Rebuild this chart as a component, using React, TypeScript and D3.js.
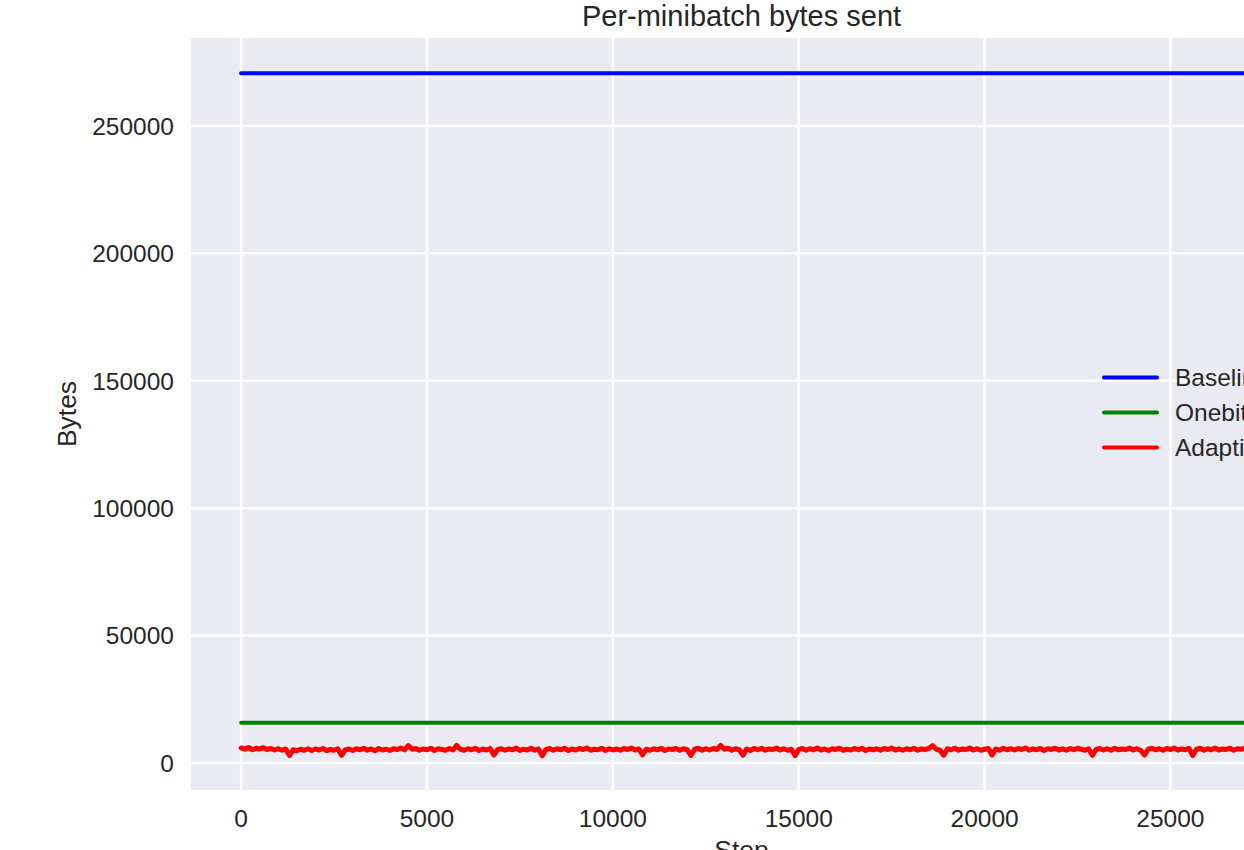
import React, { useEffect, useRef } from "react";
import * as d3 from "d3";

// steps of the two constant series (start and end of the run)
const constSteps = [0, 27100];
const baselineBytes = [270700, 270700];
const onebitBytes = [15800, 15800];

// adaptive series, one value every 100 steps
const adaptiveStepSize = 100;
const adaptiveBytes = [
  5900, 5400, 6100, 5200, 5800, 5500, 6000, 5300, 5700, 5100,
  5600, 5000, 5500, 2900, 5200, 4800, 5400, 5000, 5600, 4900,
  5500, 5100, 5700, 4900, 5300, 5000, 5600, 3000, 5100, 5500,
  4900, 5600, 5200, 5800, 5000, 5500, 4800, 5700, 5100, 5400,
  4900, 5600, 5300, 5900, 5200, 6800, 5400, 5700, 5000, 5500,
  5200, 5800, 4900, 5600, 5300, 5000, 5700, 5100, 6900, 5400,
  5000, 5600, 5200, 5800, 4900, 5500, 5100, 5700, 3100, 5300,
  5600, 5000, 5500, 5200, 5900, 4900, 5400, 5100, 5800, 5000,
  5500, 2800, 5300, 5700, 5000, 5600, 5200, 5800, 4900, 5500,
  5100, 5700, 5300, 5900, 5000, 5400, 5200, 5800, 4900, 5600,
  5100, 5500, 5000, 5700, 5300, 5900, 5100, 5500, 3200, 5400,
  5000, 5600, 5200, 5800, 4900, 5500, 5300, 5700, 5000, 5600,
  5200, 3000, 5400, 5800, 5000, 5600, 5100, 5700, 5300, 6900,
  5400, 5800, 5000, 5600, 5200, 3100, 5500, 4900, 5700, 5200,
  5800, 5000, 5500, 5300, 5900, 5100, 5600, 5000, 5400, 2900,
  5300, 5700, 5000, 5600, 5200, 5900, 5100, 5500, 4900, 5600,
  5300, 5800, 5000, 5400, 5100, 5700, 5200, 5800, 4900, 5500,
  5200, 5600, 5000, 5700, 5300, 5900, 5100, 5500, 5000, 5600,
  5200, 5800, 5000, 5500, 5300, 5700, 6800, 5400, 5000, 3000,
  5600, 5200, 5800, 5000, 5500, 5300, 5900, 5100, 5600, 5000,
  5400, 5700, 3100, 5500, 5000, 5800, 5200, 5600, 5100, 5700,
  5300, 5900, 5000, 5500, 5200, 5700, 4900, 5600, 5300, 5800,
  5100, 5500, 5000, 5700, 5200, 5800, 5400, 5000, 5600, 3000,
  5300, 5700, 5100, 5600, 5000, 5800, 5200, 5500, 5300, 5900,
  5100, 5600, 5000, 3100, 5400, 5800, 5200, 5600, 5000, 5700,
  5300, 5900, 5100, 5500, 5200, 5700, 2900, 5400, 5800, 5000,
  5600, 5200, 5900, 5100, 5500, 5300, 5800, 5000, 5600, 5400,
  5800, 5200,
];

const xTicks = [0, 5000, 10000, 15000, 20000, 25000];
const yTicks = [0, 50000, 100000, 150000, 200000, 250000];
const legendNames = ["Baseline", "Onebit", "Adaptive"];
const colors = ["#0000ff", "#008000", "#ff0000"];
const widths = [4, 4, 5];

const font = "'Liberation Sans', Arial, sans-serif";
const textColor = "#262626";

export default function App() {
  const ref = useRef<SVGSVGElement>(null);

  useEffect(() => {
    const svg = d3.select(ref.current);
    svg.selectAll("*").remove();

    const left = 191, right = 1292, top = 38, bottom = 790;

    const x = d3.scaleLinear().domain([-1348, 28270]).range([left, right]);
    const y = d3.scaleLinear().domain([-10600, 284500]).range([bottom, top]);

    svg
      .append("defs")
      .append("clipPath")
      .attr("id", "plot-clip")
      .append("rect")
      .attr("x", left)
      .attr("y", top)
      .attr("width", right - left)
      .attr("height", bottom - top);

    svg
      .append("rect")
      .attr("x", left)
      .attr("y", top)
      .attr("width", right - left)
      .attr("height", bottom - top)
      .attr("fill", "#eaeaf2");

    // grid
    const grid = svg.append("g").attr("stroke", "#ffffff").attr("stroke-width", 2.5);
    grid
      .selectAll(".vg")
      .data(xTicks)
      .enter()
      .append("line")
      .attr("x1", (d) => x(d))
      .attr("x2", (d) => x(d))
      .attr("y1", top)
      .attr("y2", bottom);
    grid
      .selectAll(".hg")
      .data(yTicks)
      .enter()
      .append("line")
      .attr("x1", left)
      .attr("x2", right)
      .attr("y1", (d) => y(d))
      .attr("y2", (d) => y(d));

    const line = d3
      .line<[number, number]>()
      .x((d) => x(d[0]))
      .y((d) => y(d[1]));

    const series: [number, number][][] = [
      constSteps.map((s, i) => [s, baselineBytes[i]]),
      constSteps.map((s, i) => [s, onebitBytes[i]]),
      adaptiveBytes.map((v, i) => [i * adaptiveStepSize, v]),
    ];

    const plot = svg.append("g").attr("clip-path", "url(#plot-clip)");
    series.forEach((pts, i) => {
      plot
        .append("path")
        .attr("d", line(pts))
        .attr("fill", "none")
        .attr("stroke", colors[i])
        .attr("stroke-width", widths[i])
        .attr("stroke-linejoin", "round")
        .attr("stroke-linecap", "round");
    });

    // tick labels
    svg
      .selectAll(".xt")
      .data(xTicks)
      .enter()
      .append("text")
      .attr("x", (d) => x(d))
      .attr("y", 826.5)
      .attr("text-anchor", "middle")
      .attr("font-size", 24.5)
      .attr("font-family", font)
      .attr("fill", textColor)
      .text((d) => String(d));

    svg
      .selectAll(".yt")
      .data(yTicks)
      .enter()
      .append("text")
      .attr("x", 174)
      .attr("y", (d) => y(d) + 8.8)
      .attr("text-anchor", "end")
      .attr("font-size", 24.5)
      .attr("font-family", font)
      .attr("fill", textColor)
      .text((d) => String(d));

    // title and axis labels
    svg
      .append("text")
      .attr("x", (left + right) / 2)
      .attr("y", 26)
      .attr("text-anchor", "middle")
      .attr("font-size", 29)
      .attr("font-family", font)
      .attr("fill", textColor)
      .text("Per-minibatch bytes sent");

    svg
      .append("text")
      .attr("x", (left + right) / 2)
      .attr("y", 859)
      .attr("text-anchor", "middle")
      .attr("font-size", 26.4)
      .attr("font-family", font)
      .attr("fill", textColor)
      .text("Step");

    svg
      .append("text")
      .attr("transform", "translate(76,414) rotate(-90)")
      .attr("text-anchor", "middle")
      .attr("font-size", 26.4)
      .attr("font-family", font)
      .attr("fill", textColor)
      .text("Bytes");

    // legend
    const legend = svg.append("g").attr("transform", "translate(1104,377.5)");
    legendNames.forEach((name, i) => {
      const g = legend.append("g").attr("transform", `translate(0,${i * 35})`);
      g.append("line")
        .attr("x1", 0)
        .attr("x2", 53)
        .attr("y1", 0)
        .attr("y2", 0)
        .attr("stroke", colors[i])
        .attr("stroke-width", 4)
        .attr("stroke-linecap", "round");
      g.append("text")
        .attr("x", 71)
        .attr("y", 8.8)
        .attr("font-size", 24.5)
        .attr("font-family", font)
        .attr("fill", textColor)
        .text(name);
    });
  }, []);

  return (
    <div
      style={{
        position: "absolute",
        left: 0,
        top: 0,
        width: 1244,
        height: 850,
        overflow: "hidden",
        background: "#ffffff",
      }}
    >
      <svg ref={ref} width={1320} height={880} style={{ display: "block" }} />
    </div>
  );
}
